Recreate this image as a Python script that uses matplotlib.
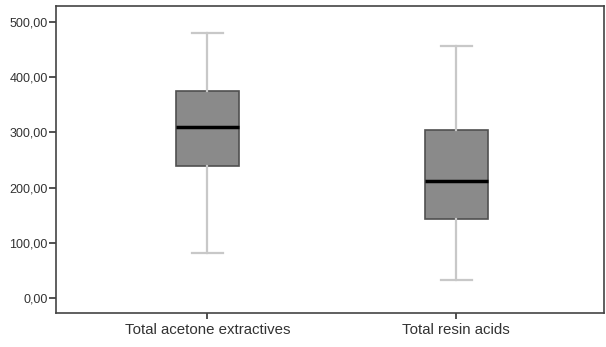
import matplotlib
matplotlib.use('Agg')
import matplotlib.pyplot as plt
from matplotlib.ticker import FuncFormatter

# box statistics
labels = ['Total acetone extractives', 'Total resin acids']
whislo = [82, 33]
q1 = [240, 143]
med = [310, 212]
q3 = [375, 305]
whishi = [480, 457]

stats = []
for i in range(len(labels)):
    stats.append({'label': labels[i], 'whislo': whislo[i], 'q1': q1[i],
                  'med': med[i], 'q3': q3[i], 'whishi': whishi[i], 'fliers': []})

plt.rcParams['font.family'] = ['Liberation Sans', 'DejaVu Sans']

fig = plt.figure(figsize=(6.06, 3.47), dpi=100)
ax = fig.add_axes([0.0924, 0.098, 0.9043, 0.885])

ax.bxp(stats, positions=[1, 2], widths=0.253, patch_artist=True,
       boxprops=dict(facecolor='#8a8a8a', edgecolor='#505050', lw=1.2),
       medianprops=dict(color='black', lw=2.5),
       whiskerprops=dict(color='#c8c8c8', lw=1.6),
       capprops=dict(color='#c8c8c8', lw=1.6),
       capwidths=0.125)

ax.set_xlim(0.392, 2.593)
ax.set_ylim(-27, 529)
ax.set_yticks([0, 100, 200, 300, 400, 500])
ax.yaxis.set_major_formatter(FuncFormatter(lambda v, p: ('%.2f' % v).replace('.', ',')))
ax.tick_params(axis='both', length=5, width=1.2, color='#333333', labelcolor='#333333')
ax.tick_params(axis='y', labelsize=9, pad=1)
ax.tick_params(axis='x', labelsize=10.8, length=4, pad=3)
for s in ax.spines.values():
    s.set_color('#444444')
    s.set_linewidth(1.2)

plt.savefig('out.png', dpi=100)
